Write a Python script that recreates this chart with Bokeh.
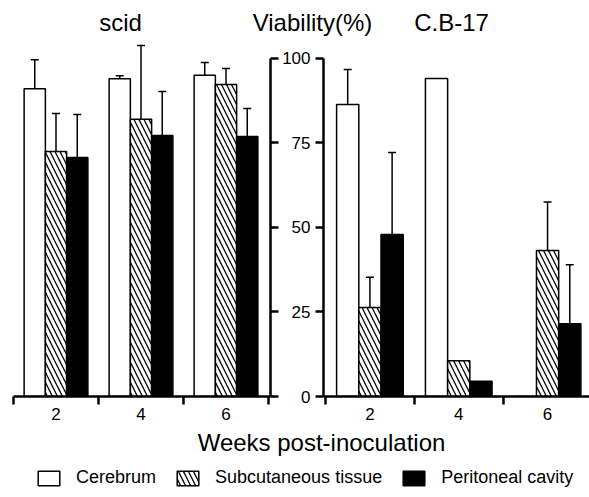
import numpy as np
from bokeh.plotting import figure
from bokeh.layouts import column, row
from bokeh.models import (ColumnDataSource, Range1d, FixedTicker, Whisker, TeeHead,
                          Legend, LegendItem, Label)
from bokeh.embed import file_html
from bokeh.resources import INLINE

# ---------------- data ----------------
weeks = [2, 4, 6]
week_labels = ["2", "4", "6"]
organs = ["Cerebrum", "Subcutaneous tissue", "Peritoneal cavity"]

scid_cerebrum = [91, 94, 95]
scid_cerebrum_err = [8.6, 0.9, 3.8]
scid_subcut = [72.5, 82, 92.3]
scid_subcut_err = [11.2, 21.8, 4.7]
scid_perit = [70.7, 77.2, 76.9]
scid_perit_err = [12.7, 13.0, 8.3]

cb17_cerebrum = [86.4, 94.1, 0]
cb17_cerebrum_err = [10.3, 0, 0]
cb17_subcut = [26.3, 10.6, 43.2]
cb17_subcut_err = [9.0, 0, 14.3]
cb17_perit = [47.9, 4.5, 21.5]
cb17_perit_err = [24.3, 0, 17.5]

y_ticks = [0, 25, 50, 75, 100]
panel_titles = ["scid", "Viability(%)", "C.B-17"]
x_title = "Weeks post-inoculation"

FONT = "Liberation Sans"
styles = [
    dict(fill_color="white"),
    dict(fill_color="white", hatch_pattern="\\", hatch_color="black", hatch_scale=10, hatch_weight=1.3),
    dict(fill_color="black"),
]
offsets = [-0.5, 0.0, 0.5]
BAR_W = 0.5
bar_sources = []


def draw_panel(p, series, errs):
    for vals, err, off, st in zip(series, errs, offsets, styles):
        xs = np.array(weeks, dtype=float) + off
        vals = np.array(vals, dtype=float)
        err = np.array(err, dtype=float)
        src = ColumnDataSource(dict(x=xs, top=vals))
        bar_sources.append(src)
        p.vbar(x="x", top="top", bottom=0, width=BAR_W, source=src,
               line_color="black", line_width=1.5, **st)
        mask = err > 0
        if mask.any():
            wsrc = ColumnDataSource(dict(base=xs[mask], lower=vals[mask],
                                         upper=(vals + err)[mask]))
            w = Whisker(source=wsrc, base="base", lower="lower", upper="upper",
                        dimension="height", line_color="black", line_width=1.5,
                        upper_head=TeeHead(size=8, line_width=1.5, line_color="black"),
                        lower_head=None, level="glyph")
            p.add_layout(w)


def style_common(p):
    p.xgrid.visible = False
    p.ygrid.visible = False
    p.outline_line_color = None
    p.background_fill_color = "white"
    p.border_fill_color = "white"
    xa = p.xaxis[0]
    xa.ticker = FixedTicker(ticks=weeks, minor_ticks=[1, 3, 5, 7])
    xa.axis_line_width = 2.5
    xa.axis_line_color = "black"
    xa.major_tick_line_color = None
    xa.major_tick_out = 0
    xa.major_tick_in = 0
    xa.minor_tick_line_color = "black"
    xa.minor_tick_line_width = 2.5
    xa.minor_tick_out = 8
    xa.minor_tick_in = 0
    xa.major_label_standoff = 3
    xa.major_label_text_font = FONT
    xa.major_label_text_font_size = "17px"
    xa.major_label_text_color = "black"
    xa.major_label_overrides = {w: l for w, l in zip(weeks, week_labels)}
    ya = p.yaxis[0]
    ya.ticker = FixedTicker(ticks=y_ticks)
    ya.bounds = (0, 100)
    ya.axis_line_width = 2.5
    ya.axis_line_color = "black"
    ya.major_tick_line_width = 2.5
    ya.major_tick_line_color = "black"
    ya.major_tick_out = 8
    ya.major_tick_in = 0
    ya.minor_tick_line_color = None
    ya.major_label_text_font = FONT
    ya.major_label_text_font_size = "17px"
    ya.major_label_text_color = "black"


Y_RANGE = (0, 105.9)
MID_H = 390

# left panel (scid)
p1 = figure(width=279, height=MID_H, x_range=Range1d(1, 7.047), y_range=Range1d(*Y_RANGE),
            output_backend="svg", toolbar_location=None, y_axis_location="right",
            x_axis_location="below",
            min_border_left=13, min_border_right=9, min_border_top=0, min_border_bottom=32)
style_common(p1)
p1.yaxis[0].major_label_overrides = {t: "" for t in y_ticks}
p1.yaxis[0].major_label_standoff = 0
draw_panel(p1, [scid_cerebrum, scid_subcut, scid_perit],
           [scid_cerebrum_err, scid_subcut_err, scid_perit_err])

# right panel (C.B-17)
p2 = figure(width=310, height=MID_H, x_range=Range1d(0.955, 6.944), y_range=Range1d(*Y_RANGE),
            output_backend="svg", toolbar_location=None, y_axis_location="left",
            x_axis_location="below",
            min_border_left=42, min_border_right=0, min_border_top=0, min_border_bottom=32)
style_common(p2)
p2.yaxis[0].major_label_standoff = 5
draw_panel(p2, [cb17_cerebrum, cb17_subcut, cb17_perit],
           [cb17_cerebrum_err, cb17_subcut_err, cb17_perit_err])

# top strip with panel titles (coordinates = page pixels)
p0 = figure(width=589, height=38, x_range=Range1d(0, 589), y_range=Range1d(38, 0),
            output_backend="svg", toolbar_location=None, x_axis_location=None,
            y_axis_location=None, min_border=0)
p0.grid.visible = False
p0.outline_line_color = None
for t, tx in zip(panel_titles, [120, 312, 451]):
    p0.add_layout(Label(x=tx, y=8, text=t, text_font=FONT, text_font_size="24px",
                        text_align="center", text_baseline="top",
                        text_color="black"))

# bottom strip: axis title + legend
p3 = figure(width=589, height=69, x_range=Range1d(0, 589), y_range=Range1d(497, 428),
            output_backend="svg", toolbar_location=None, x_axis_location=None,
            y_axis_location=None, min_border=0)
p3.grid.visible = False
p3.outline_line_color = None
p3.add_layout(Label(x=321, y=428, text=x_title, text_font=FONT, text_font_size="24px",
                    text_align="center", text_baseline="top", text_color="black"))
items = []
for name, st, src in zip(organs, styles, bar_sources[:3]):
    # legend proxies: share the bar data but stay hidden in this strip
    r = p3.vbar(x="x", top="top", bottom=0, width=1, source=src,
                line_color="black", line_width=1.5, **st)
    r.visible = False
    items.append(LegendItem(label=name, renderers=[r]))
leg = Legend(items=items, orientation="horizontal", location=(35, 9),
             glyph_width=27, glyph_height=18, label_height=18, label_standoff=14,
             spacing=18, padding=0, margin=0, border_line_color=None,
             background_fill_alpha=0, label_text_font=FONT, label_text_font_size="18px",
             label_text_color="black", inactive_fill_alpha=0, click_policy="none")
p3.add_layout(leg)

layout = column(p0, row(p1, p2, spacing=0), p3, spacing=0)
open("out.html", "w").write(file_html(layout, INLINE))
